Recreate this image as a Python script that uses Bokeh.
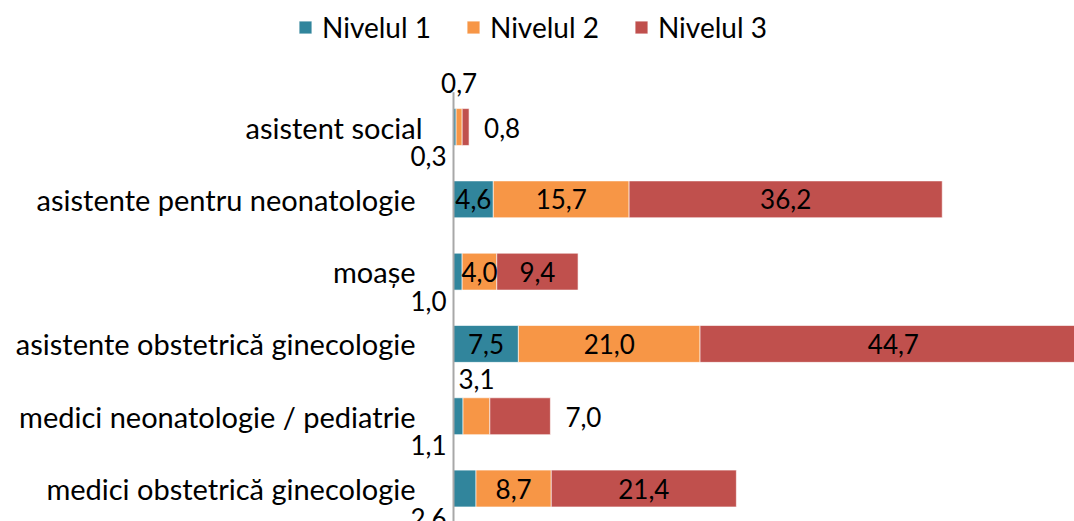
from bokeh.plotting import figure
from bokeh.models import ColumnDataSource, Range1d, Legend, LegendItem
from bokeh.core.properties import value
from bokeh.embed import file_html
from bokeh.resources import INLINE

categories = ["asistent social", "asistente pentru neonatologie", "moașe",
              "asistente obstetrică ginecologie", "medici neonatologie / pediatrie",
              "medici obstetrică ginecologie"]
series = ["Nivelul 1", "Nivelul 2", "Nivelul 3"]
nivelul_1 = [0.3, 4.6, 1.0, 7.5, 1.1, 2.6]
nivelul_2 = [0.7, 15.7, 4.0, 21.0, 3.1, 8.7]
nivelul_3 = [0.8, 36.2, 9.4, 44.7, 7.0, 21.4]
colors = ["#31859C", "#F79646", "#C0504D"]

# label placement (style only): c = centred in segment
placement = [
    ["below", "c", "below", "c", "below", "below"],
    ["above", "c", "c", "c", "above", "c"],
    ["right", "c", "c", "c", "right", "c"],
]
above_dy = {0: -44, 4: -37}
cat_dx = [-31, -38, -38, -38, -38, -38]

FONT = "Lato"
FS_LAB = "26px"
FS_CAT = "29px"
FS_LEG = "28px"

rows = list(range(len(categories)))
source = ColumnDataSource(dict(row=rows, cat=categories, dx=cat_dx,
                               **{series[0]: nivelul_1, series[1]: nivelul_2, series[2]: nivelul_3}))

p = figure(width=1074, height=521,
           x_range=Range1d(-52.37, 71.79), y_range=Range1d(5.456, -1.750),
           output_backend="svg", toolbar_location=None,
           min_border_left=0, min_border_right=0, min_border_bottom=0, min_border_top=0)

rs = p.hbar_stack(series, y="row", height=0.51, color=colors, source=source,
                  line_color="white", line_width=1, line_alpha=0.6)

# category axis line and labels
p.segment(x0=[0], x1=[0], y0=[rows[0] - 0.48], y1=[rows[-1] + 0.5],
          line_color="#A8A8A8", line_width=2)
p.text(x=0, y="row", text="cat", source=source, text_align="right",
       text_baseline="middle", x_offset="dx", y_offset=0,
       text_font=value(FONT), text_font_size=FS_CAT, text_color="black")

# data labels
vals = [nivelul_1, nivelul_2, nivelul_3]
groups = {k: dict(x=[], y=[], t=[], dy=[]) for k in ["c", "above", "below", "right"]}
for i in rows:
    left = 0.0
    for s in range(3):
        v = vals[s][i]
        txt = f"{v:.1f}".replace(".", ",")
        pl = placement[s][i]
        if pl in ("c", "above"):
            groups[pl]["x"].append(left + v / 2)
        elif pl == "below":
            groups[pl]["x"].append(0)
        else:
            groups[pl]["x"].append(left + v)
        groups[pl]["y"].append(i)
        groups[pl]["t"].append(txt)
        dy = {"c": 0, "above": above_dy.get(i, -40), "below": 29, "right": 1}[pl]
        groups[pl]["dy"].append(dy)
        left += v

spec = {"c": ("center", 0), "above": ("center", 0),
        "below": ("right", -7), "right": ("left", 15)}
for k, g in groups.items():
    al, xo = spec[k]
    p.text(x="x", y="y", text="t", source=ColumnDataSource(g), text_align=al,
           text_baseline="middle", x_offset=xo, y_offset="dy",
           text_font=value(FONT), text_font_size=FS_LAB, text_color="black")

legend = Legend(items=[LegendItem(label=series[i], renderers=[rs[i]]) for i in range(3)],
                orientation="horizontal", location=(297, 477),
                label_text_font=FONT, label_text_font_size=FS_LEG, label_text_color="black",
                glyph_width=16, glyph_height=16, spacing=34, label_standoff=9,
                border_line_color=None, background_fill_alpha=0, padding=0, margin=0)
p.add_layout(legend)

p.xaxis.visible = False
p.yaxis.visible = False
p.xgrid.visible = False
p.ygrid.visible = False
p.outline_line_color = None

open("out.html", "w").write(file_html(p, INLINE))
